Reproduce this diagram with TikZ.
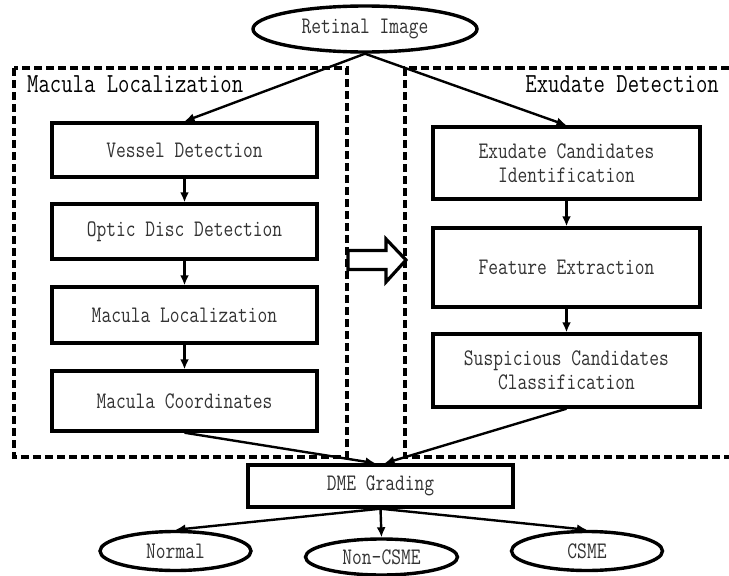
\documentclass[tikz,border=0pt]{standalone}
\usepackage{fontspec}
\newfontfamily\diagfont[FakeStretch=0.8]{Latin Modern Mono}
\usepackage{tikz}
\usetikzlibrary{shapes.geometric,arrows.meta}

\begin{document}
\begin{tikzpicture}[x=1pt,y=-1pt,
    >={Latex[length=10pt,width=9pt]},
    stepbox/.style={draw,line width=3.4pt,inner sep=0pt,minimum width=265pt,
      align=center,text=black!80,font=\diagfont\fontsize{23.7}{24}\selectfont},
    endpoint/.style={draw,ellipse,line width=3.4pt,inner sep=0pt,
      text=black!80,font=\diagfont\fontsize{23.7}{24}\selectfont},
    groupbox/.style={line width=3.2pt,dash pattern=on 8pt off 4pt},
    grouptitle/.style={font=\diagfont\fontsize{27.6}{28}\selectfont,inner sep=0pt},
    link/.style={->,line width=2.4pt}]
      \useasboundingbox (0,0) rectangle (729,576);
      % the two dashed groups
      \draw[groupbox] (14,68) rectangle (347,457);
      \draw[groupbox] (729,68) -- (405,68) -- (405,457) -- (729,457);
      \node[grouptitle,anchor=base west] (macgroup) at (27,92) {Macula Localization};
      \node[grouptitle,anchor=base east] (exgroup) at (719,92) {Exudate Detection};
      % input
      \node[endpoint,minimum width=224pt,minimum height=46pt] (retina) at (365,29) {Retinal Image};
      % left column
      \node[stepbox,minimum height=54pt] (vessel) at (184.5,150) {Vessel Detection};
      \node[stepbox,minimum height=55pt] (optic) at (184.5,231.5) {Optic Disc Detection};
      \node[stepbox,minimum height=56pt] (macloc) at (184.5,315) {Macula Localization};
      \node[stepbox,minimum height=60pt] (maccoord) at (184.5,401) {Macula Coordinates};
      % right column
      \node[stepbox,minimum width=267pt,minimum height=72pt] (exucand) at (566.5,163) {Exudate Candidates\\Identification};
      \node[stepbox,minimum width=267pt,minimum height=79pt] (feature) at (566.5,267.5) {Feature Extraction};
      \node[stepbox,minimum width=267pt,minimum height=73pt] (suspect) at (566.5,370.5) {Suspicious Candidates\\Classification};
      % grading and outcomes
      \node[stepbox,minimum height=42pt] (grading) at (380.5,486) {DME Grading};
      \node[endpoint,minimum width=151pt,minimum height=39pt] (normal) at (175.5,551) {Normal};
      \node[endpoint,minimum width=152pt,minimum height=36pt] (noncsme) at (381.5,557) {Non-CSME};
      \node[endpoint,minimum width=151pt,minimum height=39pt] (csme) at (587,551) {CSME};
      % hollow arrow between the groups
      \coordinate (handover) at (348,260);
      \draw[line width=3.2pt,fill=white] (handover) ++(0,-9.5) -- ++(38,0) -- ++(0,-11.5)
        -- ++(20,21) -- ++(-20,22) -- ++(0,-12.5) -- ++(-38,0) -- cycle;
      % connectors
      \draw[link] (retina.south) -- (vessel.north);
      \draw[link] (retina.south) -- (exucand.north);
      \draw[link] (vessel) -- (optic);
      \draw[link] (optic) -- (macloc);
      \draw[link] (macloc) -- (maccoord);
      \draw[link] (exucand) -- (feature);
      \draw[link] (feature) -- (suspect);
      \draw[link] (maccoord.south) -- ([xshift=-5pt]grading.north);
      \draw[link] (suspect.south) -- ([xshift=4pt]grading.north);
      \draw[link] (grading.south) -- (normal.north);
      \draw[link] (grading.south) -- (noncsme.north);
      \draw[link] (grading.south) -- (csme.north);
  \end{tikzpicture}
\end{document}
